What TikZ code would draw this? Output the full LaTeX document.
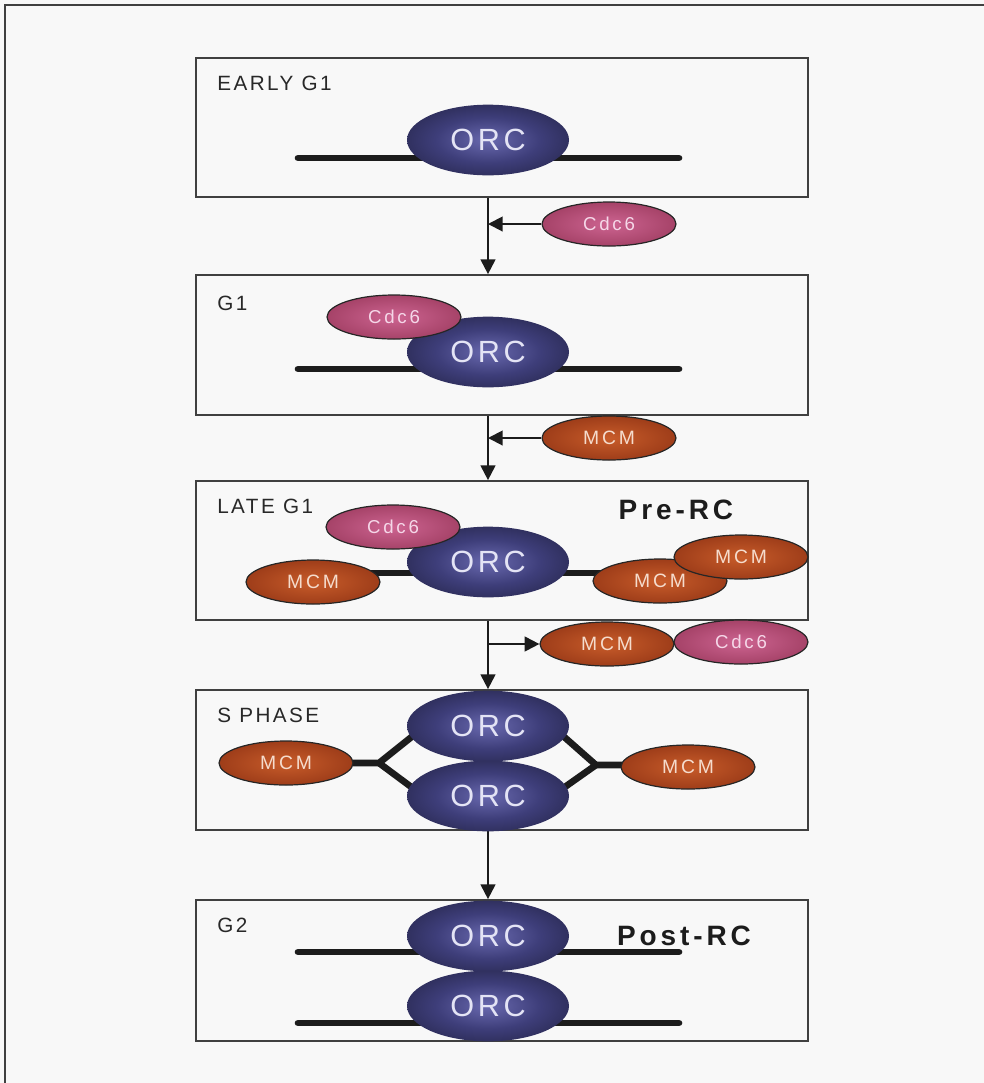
\documentclass[tikz,border=0pt]{standalone}
\usepackage{fontspec}
\setmainfont{Liberation Sans}
\usetikzlibrary{shapes.geometric,arrows.meta}
\newfontfamily\labfont[LetterSpace=12]{Liberation Sans}
\newfontfamily\orcfont[LetterSpace=12]{Liberation Sans}
\newfontfamily\smfont[LetterSpace=15]{Liberation Sans}
\newfontfamily\rcfont[LetterSpace=14]{Liberation Sans}
\definecolor{orcin}{RGB}{105,105,175}
\definecolor{orcmid}{RGB}{62,62,122}
\definecolor{orcout}{RGB}{26,26,52}
\definecolor{cdcin}{RGB}{205,100,145}
\definecolor{cdcout}{RGB}{158,60,96}
\definecolor{mcmin}{RGB}{200,92,42}
\definecolor{mcmout}{RGB}{150,55,22}
\definecolor{ink}{RGB}{28,28,28}
\definecolor{labink}{RGB}{40,40,40}
\definecolor{paper}{RGB}{248,248,248}
\definecolor{orctext}{RGB}{228,228,245}
\definecolor{cdctext}{RGB}{245,215,232}
\definecolor{mcmtext}{RGB}{245,220,205}
\pgfdeclareradialshading{orcsh}{\pgfpoint{0bp}{0bp}}{color(0bp)=(orcin); color(16bp)=(orcmid); color(40bp)=(orcout); color(50bp)=(orcout)}
\pgfdeclareradialshading{cdcsh}{\pgfpoint{0bp}{0bp}}{color(0bp)=(cdcin); color(30bp)=(cdcout); color(50bp)=(cdcout)}
\pgfdeclareradialshading{mcmsh}{\pgfpoint{0bp}{0bp}}{color(0bp)=(mcmin); color(30bp)=(mcmout); color(50bp)=(mcmout)}
\tikzset{
  frameline/.style={draw=black!75, line width=2.2pt},
  stagebox/.style={draw=black!75, line width=1.3pt, minimum width=459pt, inner sep=0pt},
  lab/.style={anchor=west, text=labink, inner sep=0pt, font=\labfont\fontsize{15.5}{18}\selectfont},
  rclab/.style={text=ink, inner sep=0pt, font=\rcfont\bfseries\fontsize{21}{24}\selectfont},
  orc/.style={ellipse, minimum width=121.5pt, minimum height=53pt, inner sep=0pt, shading=orcsh, text=orctext, font=\orcfont\fontsize{23}{26}\selectfont},
  cdc/.style={ellipse, draw=black!85, line width=0.9pt, minimum width=100.5pt, minimum height=33pt, inner sep=0pt, shading=cdcsh, text=cdctext, font=\smfont\fontsize{14}{16}\selectfont},
  mcm/.style={ellipse, draw=black!85, line width=0.9pt, minimum width=100.5pt, minimum height=33pt, inner sep=0pt, shading=mcmsh, text=mcmtext, font=\smfont\fontsize{14.5}{16}\selectfont},
  dna/.style={draw=ink, line width=5pt, line cap=round, line join=round},
  arr/.style={draw=ink, line width=1.5pt, -{Triangle[length=11pt,width=11pt]}}
}
\begin{document}
\begin{tikzpicture}[x=0.75pt,y=-0.75pt]
\fill[paper] (0,0) rectangle (984,1083);
\useasboundingbox (0,0) rectangle (984,1083);
% outer frame
\draw[frameline] (5,1083) -- (5,5) -- (984,5);
% stage boxes
\node[stagebox, minimum height=104.25pt] (b1) at (502,127.5) {};
\node[stagebox, minimum height=105pt] (b2) at (502,345) {};
\node[stagebox, minimum height=104.25pt] (b3) at (502,550.5) {};
\node[stagebox, minimum height=105pt] (b4) at (502,760) {};
\node[stagebox, minimum height=105.75pt] (b5) at (502,970.5) {};
% labels
\node[lab] (t1) at (217,83) {EARLY G1};
\node[lab] (t2) at (217,303) {G1};
\node[lab] (t3) at (217,506) {LATE G1};
\node[lab] (t4) at (217,715) {S PHASE};
\node[lab] (t5) at (217,925) {G2};
\node[rclab] (pre) at (676,510) {Pre-RC};
\node[rclab] (post) at (684,936) {Post-RC};
% main arrows
\coordinate (ax) at (488,0);
\draw[arr] (b1.south -| ax) -- (b2.north -| ax);
\draw[arr] (b2.south -| ax) -- (b3.north -| ax);
\draw[arr] (b3.south -| ax) -- (b4.north -| ax);
\draw[arr] (b4.south -| ax) -- (b5.north -| ax);
% DNA
\coordinate (d1a) at (298,158); \coordinate (d1b) at (679,158);
\coordinate (d2a) at (298,369); \coordinate (d2b) at (679,369);
\coordinate (d3a) at (360,573); \coordinate (d3b) at (610,573);
\coordinate (d5a) at (298,952); \coordinate (d5b) at (679,952);
\coordinate (d6a) at (298,1023); \coordinate (d6b) at (679,1023);
\draw[dna] (d1a) -- (d1b);
\draw[dna] (d2a) -- (d2b);
\draw[dna] (d3a) -- (d3b);
\draw[dna] (d5a) -- (d5b);
\draw[dna] (d6a) -- (d6b);
% S phase fork
\coordinate (fl) at (379,763);
\coordinate (fr) at (596,765);
\coordinate (flu) at (414,735); \coordinate (fld) at (414,789);
\coordinate (fru) at (562,735); \coordinate (frd) at (562,789);
\coordinate (fle) at (340,763); \coordinate (fre) at (636,765);
\draw[dna, line cap=butt] (fle) -- (fl) -- (flu);
\draw[dna, line cap=butt] (fl) -- (fld);
\draw[dna, line cap=butt] (fre) -- (fr) -- (fru);
\draw[dna, line cap=butt] (fr) -- (frd);
% ORCs
\node[orc] (o1) at (488,140) {ORC};
\node[orc] (o2) at (488,352) {ORC};
\node[orc] (o3) at (488,562) {ORC};
\node[orc] (o4a) at (488,726) {ORC};
\node[orc] (o4b) at (488,796) {ORC};
\node[orc] (o5a) at (488,936) {ORC};
\node[orc] (o5b) at (488,1006) {ORC};
% Cdc6 and MCM
\node[cdc] (cA) at (609,224) {Cdc6};
\node[mcm] (mB) at (609,438) {MCM};
\node[cdc] (c2) at (394,317) {Cdc6};
\node[cdc] (c3) at (393,527) {Cdc6};
\node[mcm] (m3l) at (313,582) {MCM};
\node[mcm] (m3r1) at (660,581) {MCM};
\node[mcm] (m3r2) at (741,557) {MCM};
\node[mcm] (mC) at (607,644) {MCM};
\node[cdc] (cC) at (741,642) {Cdc6};
\node[mcm] (m4l) at (286,763) {MCM};
\node[mcm] (m4r) at (688,767) {MCM};
% side arrows
\draw[arr] (cA.west) -- (cA.west -| ax);
\draw[arr] (mB.west) -- (mB.west -| ax);
\draw[arr] (mC.west -| ax) -- (mC.west);
\end{tikzpicture}
\end{document}
